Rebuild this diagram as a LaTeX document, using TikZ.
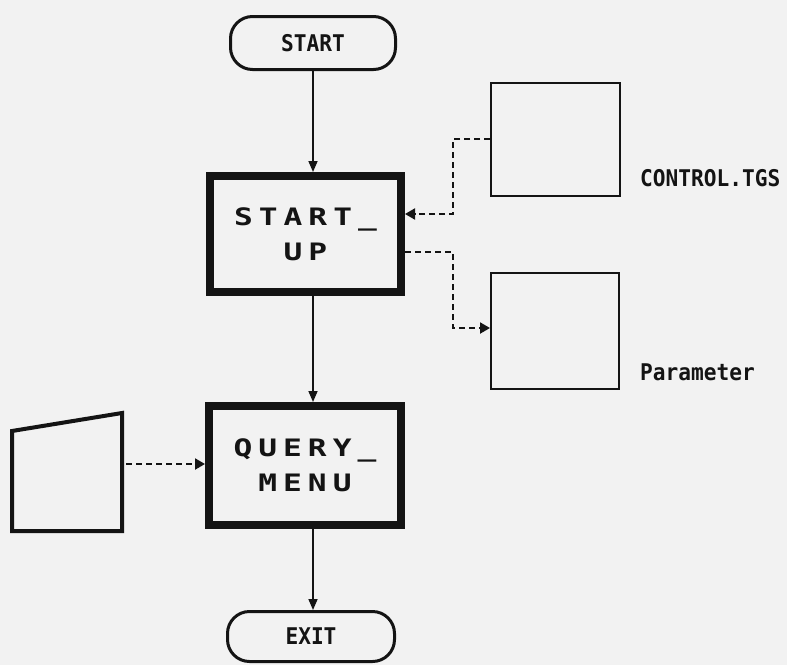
\documentclass[tikz,border=0pt]{standalone}
\usepackage{fontspec}
\usetikzlibrary{arrows.meta}
\newfontfamily\lblfont[FakeStretch=0.92,BoldFont={DejaVu Sans Mono Bold}]{DejaVu Sans Mono}
\newfontfamily\boxfont[FakeStretch=1.3,LetterSpace=25,BoldFont={DejaVu Sans Mono Bold},BoldFeatures={FakeStretch=1.3,LetterSpace=25}]{DejaVu Sans Mono}
\definecolor{paper}{gray}{0.95}
\definecolor{ink}{gray}{0.08}
\tikzset{
  terminal/.style={draw=ink, line width=3pt, rounded corners=22pt, inner sep=0pt,
    font=\lblfont\bfseries\fontsize{23}{23}\selectfont, text=ink},
  process/.style={draw=ink, line width=8pt, inner sep=0pt, align=center,
    font=\boxfont\bfseries\fontsize{24}{35}\selectfont, text=ink},
  filebox/.style={draw=ink, line width=2pt, inner sep=0pt},
  sidelabel/.style={anchor=west, inner sep=0pt, font=\lblfont\bfseries\fontsize{23}{23}\selectfont, text=ink},
  flow/.style={draw=ink, line width=1.6pt, -{Triangle[length=11pt,width=9pt]}},
  dataflow/.style={draw=ink, line width=2pt, dash pattern=on 6pt off 4pt,
    -{Triangle[length=10pt,width=11pt]}},
}
\begin{document}
\begin{tikzpicture}[x=1pt,y=-1pt]
\useasboundingbox[fill=paper] (0,0) rectangle (787,665);

% terminals
\node[terminal, minimum width=165pt, minimum height=53pt] (start) at (313,43) {START};
\node[terminal, minimum width=167pt, minimum height=50pt] (exit) at (311,636.5) {EXIT};

% process boxes
\node[process, minimum width=191pt, minimum height=116pt] (startup) at (305.5,234) {START\_\\UP};
\node[process, minimum width=192pt, minimum height=119pt] (query) at (305,465.5) {QUERY\_\\MENU};

% file boxes
\node[filebox, minimum width=129pt, minimum height=113pt] (ctrl) at (555.5,139.5) {};
\node[filebox, minimum width=128pt, minimum height=116pt] (param) at (555,331) {};
\node[sidelabel] (ctrllbl) at (640,178) {CONTROL.TGS};
\node[sidelabel] (paramlbl) at (640,372) {Parameter};

% manual input
\coordinate (mi1) at (12,531);
\coordinate (mi2) at (12,431);
\coordinate (mi3) at (122,413);
\coordinate (mi4) at (122,531);
\draw[ink, line width=4pt, line join=miter] (mi1) -- (mi2) -- (mi3) -- (mi4) -- cycle;
\coordinate (miout) at (126,464);

% control flow
\draw[flow] (start.south -| 313,0) -- (313,172);
\draw[flow] (313,296) -- (313,402);
\draw[flow] (313,529) -- (313,610);

% data flow
\coordinate (c1) at (453,139);
\coordinate (c2) at (453,214);
\draw[dataflow] (ctrl.west |- c1) -- (c1) -- (c2) -- (startup.east |- c2);
\coordinate (p1) at (453,252);
\coordinate (p2) at (453,328);
\draw[dataflow] (startup.east |- p1) -- (p1) -- (p2) -- (param.west |- p2);
\draw[dataflow] (miout) -- (query.west |- miout);
\end{tikzpicture}
\end{document}
